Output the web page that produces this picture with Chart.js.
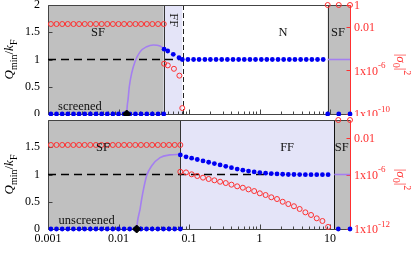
<!DOCTYPE html>
<html>
<head>
<meta charset="utf-8">
<script src="https://cdn.jsdelivr.net/npm/chart.js@4.4.0/dist/chart.umd.min.js"></script>
<style>
body { margin: 0; background: #fff; width: 415px; height: 266px; overflow: hidden; position: relative; }
canvas { position: absolute; left: 0; }
#chartTop { top: 0; }
#chartBot { top: 115px; }
</style>
</head>
<body>
<canvas id="chartTop" width="415" height="116"></canvas>
<canvas id="chartBot" width="415" height="151"></canvas>
<script>
// ---- axis ticks ----
var xTicks = [0.001, 0.01, 0.1, 1, 10];
var xTickLabels = ['0.001', '0.01', '0.1', '1', '10'];
var qTicks = [0, 0.5, 1, 1.5, 2];
var qLabelsTop = ['0', '0.5', '1', '1.5', '2'];
var qLabelsBot = ['0', '0.5', '1', '1.5', ''];
var sigTicksTop = [1, 0.01, 1e-6, 1e-10];
var sigLabelsTop = ['1', '0.01', '1x10^-6', '1x10^-10'];
var sigTicksBot = [0.01, 1e-6, 1e-12];
var sigLabelsBot = ['0.01', '1x10^-6', '1x10^-12'];

// ---- upper panel: screened ----
var topEdges = [0.001, 0.0438, 0.081, 9.27, 19.2];
var topPhases = ['SF', 'FF', 'N', 'SF'];
var topCritX = 0.01306;
var topSfX = [0.0011, 0.00132, 0.00159, 0.00191, 0.0023, 0.00276, 0.00332, 0.00399, 0.0048, 0.00577, 0.00693,
  0.00833, 0.01, 0.012, 0.0145, 0.0174, 0.0209, 0.0252, 0.0302, 0.0364, 0.0438];
var topSfQ = [0, 0, 0, 0, 0, 0, 0, 0, 0, 0, 0, 0, 0, 0, 0, 0, 0, 0, 0, 0, 0];
var topSfSig = [0.018, 0.018, 0.018, 0.018, 0.018, 0.018, 0.018, 0.018, 0.018, 0.018, 0.018,
  0.018, 0.018, 0.018, 0.018, 0.018, 0.018, 0.018, 0.018, 0.018, 0.018];
var topFfX = [0.0443, 0.0499, 0.0598, 0.0721];
var topFfQ = [1.19, 1.156, 1.095, 1.033];
var topFfSigX = [0.0443, 0.05, 0.0611, 0.073, 0.0803];
var topFfSig = [4.1e-6, 2.9e-6, 1.4e-6, 3.3e-7, 3.5e-10];
var topNX = [0.0803, 0.0965, 0.116, 0.139, 0.168, 0.201, 0.242, 0.291, 0.35, 0.421, 0.506, 0.608, 0.731,
  0.878, 1.06, 1.27, 1.52, 1.83, 2.2, 2.65, 3.18, 3.83, 4.6, 5.53, 6.65, 8.0];
var topNQ = [1, 1, 1, 1, 1, 1, 1, 1, 1, 1, 1, 1, 1, 1, 1, 1, 1, 1, 1, 1, 1, 1, 1, 1, 1, 1];
var topSf2X = [9.27, 13.3, 19.2];
var topSf2Q = [0, 0, 0];
var topSf2Sig = [1, 1, 1];
var topCurveX = [0.01306, 0.0133, 0.01364, 0.01422, 0.01538, 0.01713, 0.0202, 0.0251, 0.0312, 0.0388, 0.0438];
var topCurveQ = [0, 0.15, 0.26, 0.5, 0.75, 0.96, 1.14, 1.235, 1.266, 1.248, 1.2];
var topTailX = [9.27, 19.2];
var topTailQ = [1, 1];
var topDashX = [0.001, 0.081];

// ---- lower panel: unscreened ----
var botEdges = [0.001, 0.0753, 11.5, 19.2];
var botPhases = ['SF', 'FF', 'SF'];
var botCritX = 0.0181;
var botSfX = [0.0011, 0.00132, 0.00159, 0.00191, 0.00229, 0.00276, 0.00331, 0.00398, 0.00478, 0.00575, 0.00691,
  0.0083, 0.00997, 0.012, 0.0144, 0.0173, 0.0208, 0.025, 0.03, 0.0361, 0.0434, 0.0521, 0.0627, 0.0753];
var botSfQ = [0, 0, 0, 0, 0, 0, 0, 0, 0, 0, 0, 0, 0, 0, 0, 0, 0, 0, 0, 0, 0, 0, 0, 0];
var botSfSig = [1.78e-3, 1.78e-3, 1.78e-3, 1.78e-3, 1.78e-3, 1.78e-3, 1.78e-3, 1.78e-3, 1.78e-3, 1.78e-3, 1.78e-3,
  1.78e-3, 1.78e-3, 1.78e-3, 1.78e-3, 1.78e-3, 1.78e-3, 1.78e-3, 1.78e-3, 1.78e-3, 1.78e-3, 1.78e-3, 1.78e-3, 1.78e-3];
var botFfX = [0.0753, 0.0907, 0.109, 0.131, 0.158, 0.19, 0.229, 0.276, 0.332, 0.4, 0.482, 0.58, 0.698, 0.84,
  1.01, 1.22, 1.47, 1.77, 2.13, 2.56, 3.08, 3.71, 4.47, 5.38, 6.48, 7.8, 9.39];
var botFfQ = [1.36, 1.325, 1.3, 1.275, 1.25, 1.225, 1.2, 1.175, 1.15, 1.125, 1.1, 1.08, 1.063, 1.048,
  1.035, 1.024, 1.017, 1.01, 1.005, 1.0, 1.0, 0.998, 0.997, 0.997, 0.997, 0.997, 0.997];
var botFfSig = [2.0e-6, 1.7e-6, 1.05e-6, 6.8e-7, 4.5e-7, 3.2e-7, 2.3e-7, 1.6e-7, 1.15e-7, 7.6e-8, 5.0e-8, 3.5e-8,
  2.3e-8, 1.5e-8, 8.5e-9, 5.5e-9, 3.1e-9, 2.0e-9, 1.0e-9, 5.6e-10, 3.2e-10, 1.6e-10, 6.8e-11, 3.5e-11,
  1.5e-11, 7.6e-12, 1.7e-12];
var botSf2X = [13.1, 19.2];
var botSf2Q = [0, 0];
var botSf2Sig = [1, 1];
var botCurveX = [0.0181, 0.0186, 0.0197, 0.0202, 0.021, 0.022, 0.0251, 0.0296, 0.0388, 0.0537, 0.0753];
var botCurveQ = [0, 0.14, 0.3, 0.36, 0.5, 0.65, 0.98, 1.16, 1.31, 1.36, 1.37];
var botTailX = [11.5, 19.2];
var botTailQ = [1, 1];
var botDashX = [0.001, 1.49];

var BLUE = '#0000f2', RED = '#ff3030', PURPLE = '#a47ff0';
var FILL = { SF: '#c0c0c0', FF: '#e4e4f8', N: '#ffffff' };
var SERIF = '"Liberation Serif", "DejaVu Serif", serif';

Chart.defaults.font.family = SERIF;
Chart.defaults.font.size = 12;
Chart.defaults.color = '#000';

function pts(xs, ys) {
  return xs.map(function(x, i) { return { x: x, y: ys[i] }; });
}
function noPad(s) {
  s.paddingTop = 0; s.paddingBottom = 0; s.paddingLeft = 0; s.paddingRight = 0;
}

// text with italic / sub / sup pieces
function pieceFont(p, size) {
  var s = (p[1] == 'sub' || p[1] == 'sup') ? Math.round(size * 0.75) : size;
  return (p[1] == 'i' ? 'italic ' : '') + s + 'px ' + SERIF;
}
function richWidth(ctx, parts, size) {
  var w = 0;
  parts.forEach(function(p) { ctx.font = pieceFont(p, size); w += ctx.measureText(p[0]).width; });
  return w;
}
function drawRich(ctx, parts, x, y, size, align, color) {
  var w = richWidth(ctx, parts, size);
  var cx = align == 'center' ? x - w / 2 : (align == 'right' ? x - w : x);
  ctx.fillStyle = color;
  ctx.textAlign = 'left';
  ctx.textBaseline = 'alphabetic';
  parts.forEach(function(p) {
    ctx.font = pieceFont(p, size);
    var dy = p[1] == 'sub' ? size * 0.28 : (p[1] == 'sup' ? -size * 0.55 : 0);
    ctx.fillText(p[0], cx, y + dy);
    cx += ctx.measureText(p[0]).width;
  });
}
function labelParts(s) {
  var k = s.indexOf('^');
  return k < 0 ? [[s, '']] : [[s.slice(0, k), ''], [s.slice(k + 1), 'sup']];
}

function panelPlugin(cfg) {
  return {
    id: 'panel',
    beforeDatasetsDraw: function(chart) {
      var ctx = chart.ctx, a = chart.chartArea, sx = chart.scales.x, sy = chart.scales.y, s2 = chart.scales.y2;
      ctx.save();
      for (var i = 0; i < cfg.phases.length; i++) {
        var x0 = sx.getPixelForValue(cfg.edges[i]), x1 = sx.getPixelForValue(cfg.edges[i + 1]);
        ctx.fillStyle = FILL[cfg.phases[i]];
        ctx.fillRect(x0, a.top, x1 - x0, a.bottom - a.top);
      }
      // phase boundaries
      ctx.lineWidth = 1;
      for (i = 1; i < cfg.edges.length - 1; i++) {
        var px = Math.round(sx.getPixelForValue(cfg.edges[i])) + 0.5;
        ctx.strokeStyle = cfg.dividerColor[i - 1];
        ctx.setLineDash(cfg.dividerDash[i - 1] ? [5, 3] : []);
        ctx.beginPath(); ctx.moveTo(px, a.top); ctx.lineTo(px, a.bottom); ctx.stroke();
      }
      ctx.setLineDash([]);
      // frame
      var L = Math.round(a.left) + 0.5, R = Math.round(a.right) + 0.5, T = Math.round(a.top) + 0.5, B = Math.round(a.bottom) + 0.5;
      ctx.strokeStyle = '#444';
      ctx.beginPath(); ctx.moveTo(R, T); ctx.lineTo(L, T); ctx.lineTo(L, B); ctx.lineTo(R, B); ctx.stroke();
      ctx.strokeStyle = RED;
      ctx.beginPath(); ctx.moveTo(R, T); ctx.lineTo(R, B); ctx.stroke();
      // inward ticks
      ctx.strokeStyle = '#444';
      ctx.beginPath();
      for (var e = -3; e <= 1; e++) {
        for (var m = 1; m <= 9; m++) {
          var v = m * Math.pow(10, e);
          if (v > sx.max) break;
          var tx = Math.round(sx.getPixelForValue(v)) + 0.5;
          ctx.moveTo(tx, B); ctx.lineTo(tx, B - (m == 1 ? 5 : 3));
        }
      }
      qTicks.forEach(function(q) {
        var ty = Math.round(sy.getPixelForValue(q)) + 0.5;
        ctx.moveTo(L, ty); ctx.lineTo(L + 4, ty);
      });
      ctx.stroke();
      ctx.strokeStyle = RED;
      ctx.beginPath();
      cfg.sigTicks.forEach(function(t) {
        var ty = Math.round(s2.getPixelForValue(t)) + 0.5;
        ctx.moveTo(R, ty); ctx.lineTo(R - 4, ty);
      });
      ctx.stroke();
      ctx.restore();
    },
    afterDatasetsDraw: function(chart) {
      var ctx = chart.ctx, a = chart.chartArea, sx = chart.scales.x, sy = chart.scales.y, s2 = chart.scales.y2;
      ctx.save();
      // phase labels
      cfg.labels.forEach(function(l) {
        var lx = sx.getPixelForValue(l.x), ly = sy.getPixelForValue(l.y);
        ctx.save();
        ctx.translate(lx, ly);
        if (l.rot) ctx.rotate(Math.PI / 2);
        ctx.font = '12.5px ' + SERIF;
        ctx.fillStyle = '#111';
        ctx.textAlign = 'center';
        ctx.textBaseline = 'middle';
        ctx.fillText(l.t, 0, 0);
        ctx.restore();
      });
      // right axis labels
      cfg.sigTicks.forEach(function(t, i) {
        drawRich(ctx, labelParts(cfg.sigLabels[i]), a.right + 4, s2.getPixelForValue(t) + 4.3, 12, 'left', RED);
      });
      var cy = (a.top + a.bottom) / 2;
      // left title
      ctx.save();
      ctx.translate(13, cy);
      ctx.rotate(-Math.PI / 2);
      drawRich(ctx, [['Q', 'i'], ['min', 'sub'], ['/', ''], ['k', 'i'], ['F', 'sub']], 0, 0, 13, 'center', '#000');
      ctx.restore();
      // right title
      ctx.save();
      ctx.translate(397, cy + 5);
      ctx.rotate(Math.PI / 2);
      drawRich(ctx, [['|', ''], ['σ', 'i'], ['0', 'sub'], ['|', ''], ['2', 'sup']], 0, 0, 13, 'center', RED);
      ctx.restore();
      if (cfg.xTitle) {
        drawRich(ctx, [['E', 'i'], ['F', 'sub'], [' /', ''], ['R', 'i'], ['X', 'sub']], 201, 261, 13, 'center', '#000');
      }
      ctx.restore();
    }
  };
}

function makePanel(id, d, cfg) {
  return new Chart(document.getElementById(id), {
    type: 'scatter',
    data: {
      datasets: [
        { data: [{ x: d.critX, y: 0 }], pointStyle: 'rectRot', pointRadius: 4, borderWidth: 1,
          backgroundColor: '#000', borderColor: '#000', clip: false },
        { data: pts(d.qX, d.q), pointRadius: 2.4, borderWidth: 0, backgroundColor: BLUE, borderColor: BLUE, clip: false },
        { data: pts(d.sigX, d.sig), yAxisID: 'y2', pointRadius: 2.5, borderWidth: 1,
          backgroundColor: 'rgba(0,0,0,0)', borderColor: RED, clip: false },
        { data: pts(d.curveX, d.curveQ), showLine: true, pointRadius: 0, borderColor: PURPLE, borderWidth: 1.6,
          cubicInterpolationMode: 'monotone' },
        { data: pts(d.tailX, d.tailQ), showLine: true, pointRadius: 0, borderColor: PURPLE, borderWidth: 1.6 },
        { data: pts(d.dashX, [1, 1]), showLine: true, pointRadius: 0, borderColor: '#000', borderWidth: 1.5,
          borderDash: [8, 5] }
      ]
    },
    options: {
      responsive: false,
      animation: false,
      events: [],
      layout: { autoPadding: false, padding: { top: 5, bottom: cfg.padBottom, left: 0, right: 0 } },
      plugins: { legend: { display: false }, tooltip: { enabled: false } },
      scales: {
        x: {
          type: 'logarithmic', min: 0.001, max: 19.2,
          grid: { display: false, drawTicks: false }, border: { display: false },
          afterBuildTicks: function(s) { s.ticks = xTicks.map(function(v) { return { value: v }; }); },
          afterFit: function(s) { s.height = cfg.xHeight; noPad(s); },
          ticks: { display: cfg.xTitle, padding: 3, maxRotation: 0, autoSkip: false,
            callback: function(v, i) { return xTickLabels[i]; } }
        },
        y: {
          position: 'left', min: 0, max: 2,
          grid: { display: false, drawTicks: false }, border: { display: false },
          afterBuildTicks: function(s) { s.ticks = qTicks.map(function(v) { return { value: v }; }); },
          afterFit: function(s) { s.width = 48; noPad(s); },
          ticks: { padding: 8, callback: function(v, i) { return cfg.qLabels[i]; } }
        },
        y2: {
          type: 'logarithmic', position: 'right', min: cfg.sigMin, max: 1,
          grid: { display: false, drawTicks: false }, border: { display: false },
          afterFit: function(s) { s.width = 65; noPad(s); },
          ticks: { display: false }
        }
      }
    },
    plugins: [panelPlugin(cfg)]
  });
}

makePanel('chartTop', {
  critX: topCritX,
  qX: topSfX.concat(topFfX, topNX, topSf2X), q: topSfQ.concat(topFfQ, topNQ, topSf2Q),
  sigX: topSfX.concat(topFfSigX, topSf2X), sig: topSfSig.concat(topFfSig, topSf2Sig),
  curveX: topCurveX, curveQ: topCurveQ, tailX: topTailX, tailQ: topTailQ, dashX: topDashX
}, {
  edges: topEdges, phases: topPhases,
  dividerColor: ['#333', '#222', '#333'], dividerDash: [false, true, false],
  sigTicks: sigTicksTop, sigLabels: sigLabelsTop, sigMin: 1e-10, qLabels: qLabelsTop,
  padBottom: 2, xHeight: 0, xTitle: false,
  labels: [
    { t: 'SF', x: 0.00512, y: 1.49 }, { t: 'FF', x: 0.0602, y: 1.72, rot: true },
    { t: 'N', x: 2.15, y: 1.5 }, { t: 'SF', x: 13, y: 1.5 }, { t: 'screened', x: 0.00284, y: 0.14 }
  ]
});

makePanel('chartBot', {
  critX: botCritX,
  qX: botSfX.concat(botFfX, botSf2X), q: botSfQ.concat(botFfQ, botSf2Q),
  sigX: botSfX.concat(botFfX, botSf2X), sig: botSfSig.concat(botFfSig, botSf2Sig),
  curveX: botCurveX, curveQ: botCurveQ, tailX: botTailX, tailQ: botTailQ, dashX: botDashX
}, {
  edges: botEdges, phases: botPhases,
  dividerColor: ['#333', '#111'], dividerDash: [false, false],
  sigTicks: sigTicksBot, sigLabels: sigLabelsBot, sigMin: 1e-12, qLabels: qLabelsBot,
  padBottom: 0, xHeight: 37, xTitle: true,
  labels: [
    { t: 'SF', x: 0.00603, y: 1.49 }, { t: 'FF', x: 2.46, y: 1.49 },
    { t: 'SF', x: 14.7, y: 1.49 }, { t: 'unscreened', x: 0.00354, y: 0.145 }
  ]
});
</script>
</body>
</html>
